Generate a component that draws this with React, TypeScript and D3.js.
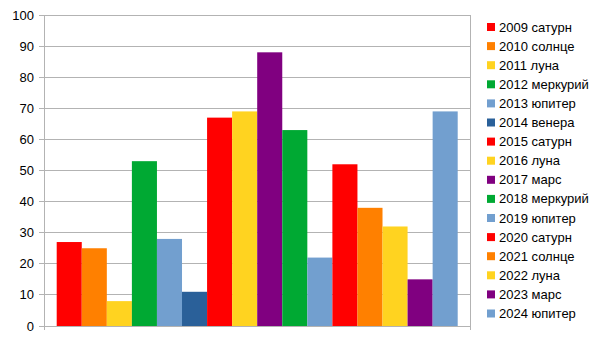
import React from "react";
import * as d3 from "d3";

const seriesNames = [
  "2009 сатурн", "2010 солнце", "2011 луна", "2012 меркурий", "2013 юпитер", "2014 венера",
  "2015 сатурн", "2016 луна", "2017 марс", "2018 меркурий", "2019 юпитер", "2020 сатурн",
  "2021 солнце", "2022 луна", "2023 марс", "2024 юпитер",
];
const values = [27, 25, 8, 53, 28, 11, 67, 69, 88, 63, 22, 52, 38, 32, 15, 69];
const colors = [
  "#ff0000", "#ff8000", "#ffd320", "#00a933", "#729fcf", "#2a6099",
  "#ff0000", "#ffd320", "#800080", "#00a933", "#729fcf", "#ff0000",
  "#ff8000", "#ffd320", "#800080", "#729fcf",
];
const yTicks = [0, 10, 20, 30, 40, 50, 60, 70, 80, 90, 100];

export default function App() {
  const W = 606, H = 341;
  const left = 44, right = 470, top = 15, bottom = 326;
  const y = d3.scaleLinear().domain([0, 100]).range([bottom, top]);
  const x = d3.scaleBand<number>().domain(d3.range(values.length)).range([left + 12.7, right - 12.3]).padding(0);
  const font = "'Liberation Sans', Arial, sans-serif";
  const grid = "#b3b3b3";
  return (
    <svg width={W} height={H} style={{ position: "absolute", left: 0, top: 0 }} fontFamily={font}>
      <rect width={W} height={H} fill="#fff" />
      {yTicks.map((t) => (
        <g key={t}>
          <line x1={left - 5} x2={right} y1={y(t)} y2={y(t)} stroke={grid} strokeWidth={1} shapeRendering="crispEdges" />
          <text x={left - 10} y={y(t)} dy="0.35em" textAnchor="end" fontSize={13} fill="#000">{t}</text>
        </g>
      ))}
      {values.map((v, i) => (
        <rect key={i} x={x(i)} y={y(v)} width={x.bandwidth()} height={y(0) - y(v)} fill={colors[i]} />
      ))}
      <line x1={left} x2={left} y1={top} y2={bottom + 4} stroke={grid} strokeWidth={1} shapeRendering="crispEdges" />
      <line x1={right} x2={right} y1={top} y2={bottom + 4} stroke={grid} strokeWidth={1} shapeRendering="crispEdges" />
      <line x1={left} x2={right} y1={bottom} y2={bottom} stroke={grid} strokeWidth={1} shapeRendering="crispEdges" />
      {seriesNames.map((n, i) => {
        const cy = 27 + i * 19.1;
        return (
          <g key={n}>
            <rect x={487} y={cy - 4} width={8} height={8} fill={colors[i]} />
            <text x={499} y={cy} dy="0.35em" fontSize={13} fill="#000">{n}</text>
          </g>
        );
      })}
    </svg>
  );
}
